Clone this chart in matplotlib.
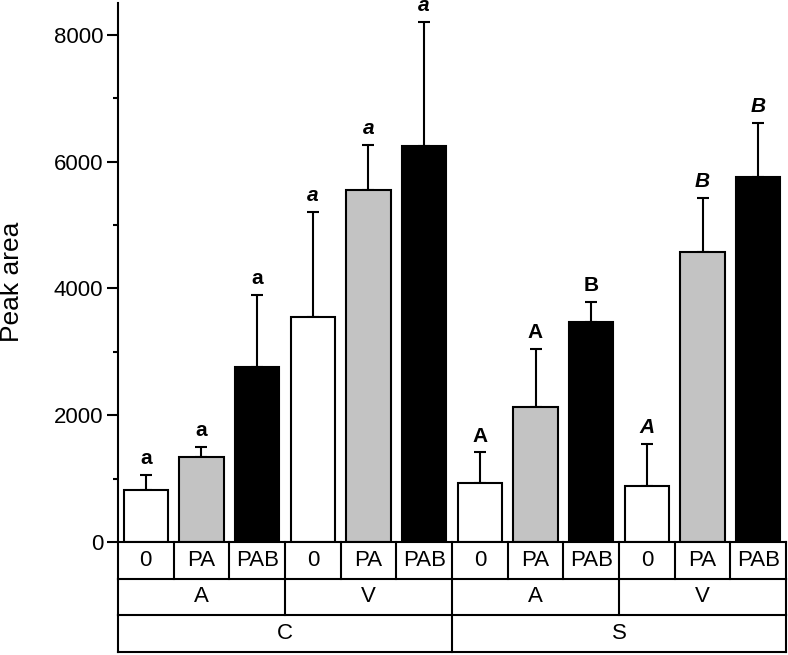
import matplotlib.pyplot as plt
from matplotlib.ticker import MultipleLocator

plt.rcParams['font.family'] = ['Liberation Sans', 'DejaVu Sans']

# bars, left to right: C/A, C/V, S/A, S/V, each 0 / PA / PAB
treatments = ['0', 'PA', 'PAB'] * 4
level2 = ['A', 'V', 'A', 'V']
level1 = ['C', 'S']
means = [817, 1338, 2755, 3555, 5545, 6251, 932, 2133, 3466, 885, 4581, 5761]
errs = [237, 162, 1147, 1653, 711, 1943, 480, 907, 321, 663, 849, 854]
letters = ['a', 'a', 'a', 'a', 'a', 'a', 'A', 'A', 'B', 'A', 'B', 'B']
italic = [False] * 3 + [True] * 3 + [False] * 3 + [True] * 3
colors = ['white', '#c3c3c3', 'black'] * 4

fig = plt.figure(figsize=(7.88, 6.55), dpi=100)
ax = fig.add_axes([0.1497, 0.1725, 0.8478, 0.8229])
tab = fig.add_axes([0.1497, 0.0046, 0.8478, 0.1679])

x = list(range(len(means)))
ax.bar(x, means, width=0.8, color=colors, edgecolor='black', linewidth=1.5, zorder=2)
ax.errorbar(x, means, yerr=[[0] * len(errs), errs], fmt='none', ecolor='black',
            elinewidth=1.5, capsize=4.3, capthick=1.5, zorder=1)

for xi, m, e, lt, it in zip(x, means, errs, letters, italic):
    ax.annotate(lt, (xi, m + e), xytext=(0, 5), textcoords='offset points',
                ha='center', va='bottom', fontsize=15, fontweight='bold',
                fontstyle='italic' if it else 'normal', annotation_clip=False)

ax.set_xlim(-0.5, 11.5)
ax.set_ylim(0, 8500)
ax.set_xticks([])
ax.yaxis.set_major_locator(MultipleLocator(2000))
ax.yaxis.set_minor_locator(MultipleLocator(1000))
ax.tick_params(axis='y', which='major', length=7.7, width=1.5, labelsize=16, pad=3)
ax.tick_params(axis='y', which='minor', length=3.8, width=1.5)
for s in ['top', 'right', 'bottom']:
    ax.spines[s].set_visible(False)
ax.spines['left'].set_linewidth(1.5)
ax.set_ylabel('Peak area', fontsize=19)
ax.yaxis.set_label_coords(-0.14, 0.483)

# category table under the bars
tab.set_xlim(-0.5, 11.5)
tab.set_ylim(0, 3)
tab.axis('off')
lw = 1.5
for yv in [0, 1, 2, 3]:
    tab.plot([-0.5, 11.5], [yv, yv], color='black', lw=lw, clip_on=False)
for i in range(13):
    tab.plot([i - 0.5, i - 0.5], [2, 3], color='black', lw=lw, clip_on=False)
    if i % 3 == 0:
        tab.plot([i - 0.5, i - 0.5], [1, 2], color='black', lw=lw, clip_on=False)
    if i % 6 == 0:
        tab.plot([i - 0.5, i - 0.5], [0, 1], color='black', lw=lw, clip_on=False)
for i, t in enumerate(treatments):
    tab.text(i, 2.5, t, ha='center', va='center', fontsize=16)
for i, t in enumerate(level2):
    tab.text(i * 3 + 1, 1.5, t, ha='center', va='center', fontsize=16)
for i, t in enumerate(level1):
    tab.text(i * 6 + 2.5, 0.5, t, ha='center', va='center', fontsize=16)

fig.savefig('out.png', dpi=100)
